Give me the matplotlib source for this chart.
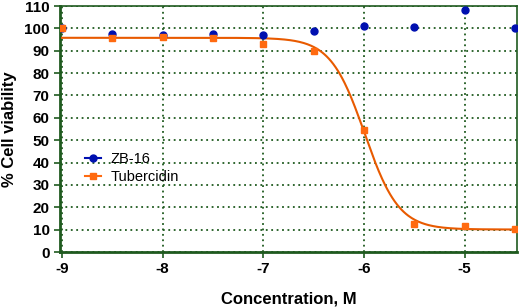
import numpy as np
import matplotlib
matplotlib.use("Agg")
import matplotlib.pyplot as plt

plt.rcParams['font.family'] = ['Liberation Sans', 'DejaVu Sans']
plt.rcParams['axes.unicode_minus'] = False

# log concentration (M)
log_conc = [-9, -8.5, -8, -7.5, -7, -6.5, -6, -5.5, -5, -4.5]
zb16 = [100, 97.5, 97, 97.5, 97, 99, 101, 100.8, 108, 100]
tubercidin = [100, 95.5, 96, 95.5, 93, 90, 54.5, 12.5, 11.5, 10.5]


def logistic(x, p):
    top, bottom, logc, hill = p
    return bottom + (top - bottom) / (1 + 10 ** ((x - logc) * hill))


# fit a 4-parameter dose-response curve to the tubercidin points
def fit_curve(x, y, p0):
    p = np.array(p0, dtype=float)
    for _ in range(100):
        r = y - logistic(x, p)
        J = np.zeros((len(x), len(p)))
        for k in range(len(p)):
            dp = np.zeros(len(p))
            dp[k] = 1e-6
            J[:, k] = (logistic(x, p + dp) - logistic(x, p - dp)) / 2e-6
        step = np.linalg.lstsq(J, r, rcond=None)[0]
        p = p + step
        if np.abs(step).max() < 1e-9:
            break
    return p


x = np.array(log_conc)
params = fit_curve(x, np.array(tubercidin), [96, 10, -6, 2])
xs = np.linspace(-9, -4.5, 400)

green = '#1f5a1f'
blue = '#0010b0'
orange = '#ff6a10'

fig = plt.figure(figsize=(5.23, 3.07), dpi=100)
ax = fig.add_axes([60 / 523, 1 - 252 / 307, 457 / 523, 246 / 307])

ax.plot(xs, logistic(xs, params), color='#e85a00', lw=1.5, zorder=3)
ax.plot(x, zb16, 'o', color=blue, ms=5, zorder=4)
ax.plot(x, tubercidin, 's', color=orange, ms=5, zorder=4)

# legend handles
ax.plot([], [], '-o', color=blue, ms=5, lw=1.5, label='ZB-16')
ax.plot([], [], '-s', color=orange, ms=5, lw=1.5, label='Tubercidin')
ax.legend(loc='upper left', bbox_to_anchor=(0.025, 0.46), frameon=False,
          fontsize=10.5, handlelength=1.1, handletextpad=0.7, labelspacing=0.3)

ax.set_xlim(-9.02, -4.48)
ax.set_ylim(0, 110)
ax.set_xticks([-9, -8, -7, -6, -5])
ax.set_yticks(range(0, 111, 10))
ax.grid(True, color=green, ls=(0, (1, 2)), lw=1.3)
ax.set_axisbelow(True)

for s in ax.spines.values():
    s.set_color(green)
    s.set_linewidth(1.2)
ax.spines['bottom'].set_linewidth(2)
ax.spines['left'].set_linewidth(2)

ax.tick_params(colors='black', length=4, width=1.2, labelsize=11)
ax.tick_params(axis='both', color=green)
for lbl in ax.get_xticklabels() + ax.get_yticklabels():
    lbl.set_fontweight('bold')

ax.set_xlabel('Concentration, M', fontsize=12, fontweight='bold', labelpad=11)
ax.set_ylabel('% Cell viability', fontsize=12, fontweight='bold', labelpad=5)

fig.savefig('out.png', dpi=100)
